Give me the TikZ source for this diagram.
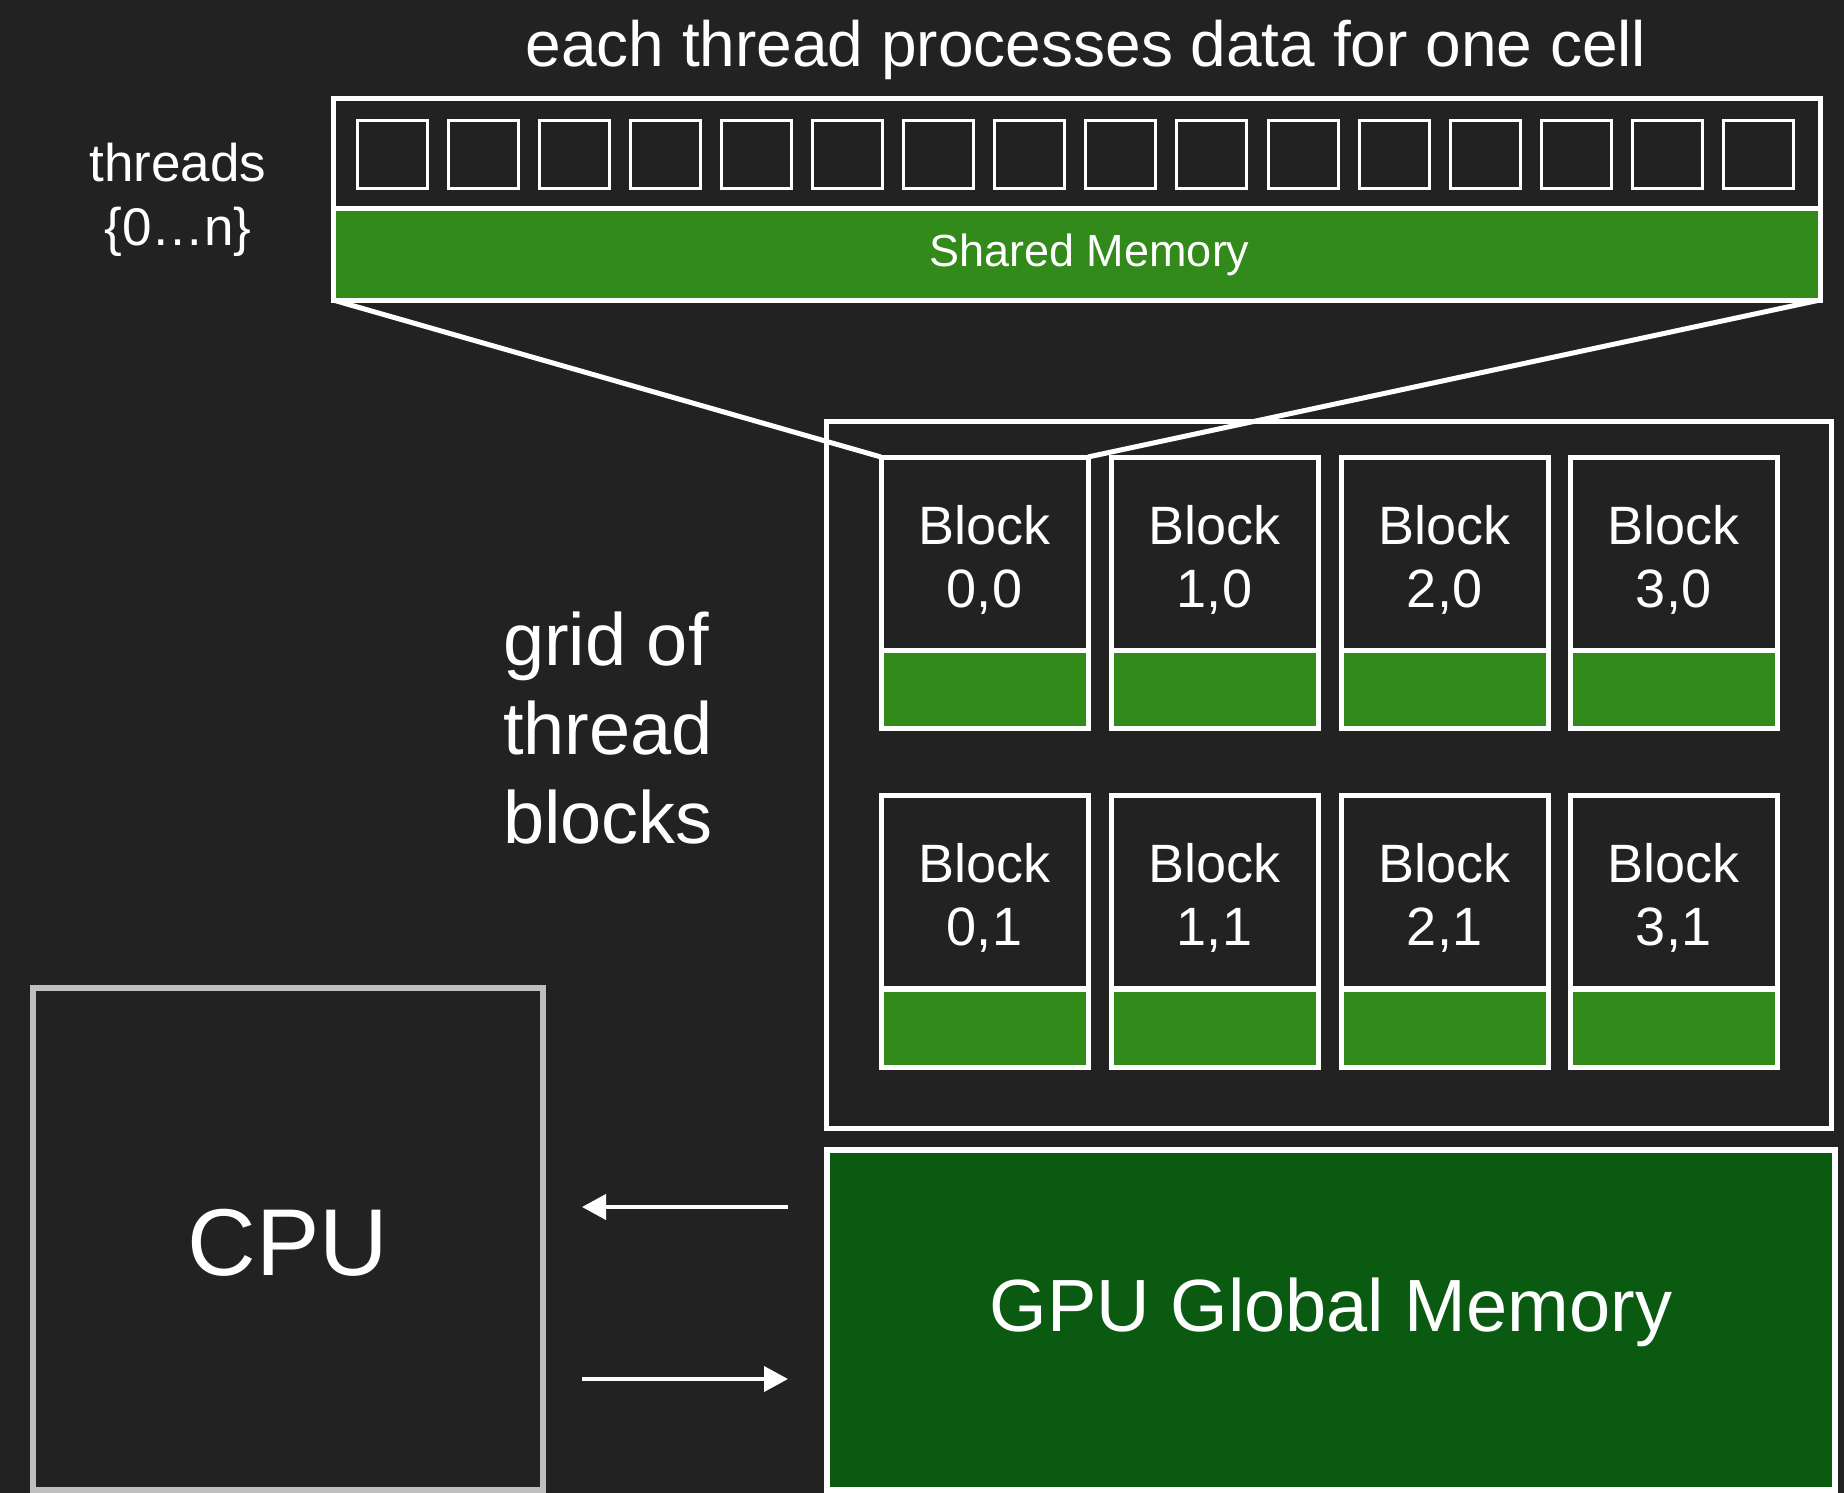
\documentclass[tikz,border=0pt]{standalone}
\usepackage{fontspec}
\setmainfont{Liberation Sans}
\usetikzlibrary{arrows.meta}
\definecolor{bg}{HTML}{222222}
\definecolor{smgreen}{HTML}{318A19}
\definecolor{gmgreen}{HTML}{0B5A12}
\definecolor{cpugray}{HTML}{BFBFBF}
\begin{document}
\begin{tikzpicture}[x=0.5pt,y=-0.5pt,
  every node/.style={text=white, inner sep=0pt, outer sep=0pt},
  box/.style={draw=white, line width=2.5pt, fill=bg, anchor=north west},
  greenbox/.style={draw=white, line width=2.5pt, fill=smgreen, anchor=north west},
  cell/.style={draw=white, line width=1.5pt, fill=bg, anchor=north west, minimum width=35pt, minimum height=34pt},
  blocktop/.style={box, minimum width=103.5pt, minimum height=96.5pt},
  blocktxt/.style={align=center, font=\fontsize{27}{31.5}\selectfont},
  blockmem/.style={greenbox, minimum width=103.5pt, minimum height=39pt},
  zoomline/.style={draw=white, line width=2.5pt},
  conn/.style={draw=white, line width=2pt, -{Triangle[length=12pt,width=12.5pt]}, shorten <=19.5pt, shorten >=19.5pt}
]
\fill[bg] (0,0) rectangle (1844,1493);
\useasboundingbox (0,0) rectangle (1844,1493);

% title
\node[font=\fontsize{32}{38}\selectfont] (title) at (1086,50) {each thread processes data for one cell};

% threads label
\node[align=center, font=\fontsize{26.5}{32}\selectfont] (threads) at (178,200) {threads\\\{0…n\}};

% thread box
\node[box, minimum width=743.5pt, minimum height=55pt] (tbox) at (333,99) {};
\node[greenbox, minimum width=743.5pt, minimum height=45.5pt] (shared) at (333,209) {};
\node[font=\fontsize{22.5}{27}\selectfont] (smtxt) at ([xshift=6.5pt]shared.center) {Shared Memory};
\foreach \i in {0,...,15} {
  \node[cell] (c\i) at ({357+91.1*\i},121) {};
}

% grid of thread blocks
\node[align=left, anchor=west, font=\fontsize{37}{44.5}\selectfont] (gridlbl) at (503,728) {grid of\\thread\\blocks};

\node[box, minimum width=502.5pt, minimum height=353.5pt] (grid) at (826,421) {};

% blocks
\foreach \c/\x in {0/881,1/1111,2/1341,3/1570} {
  \node[blocktop] (b\c0) at (\x,457) {};
  \node[blocktxt] (t\c0) at ([yshift=-3pt]b\c0.center) {Block\\\c,0};
  \node[blockmem] (m\c0) at (\x,650) {};
  \node[blocktop] (b\c1) at (\x,795) {};
  \node[blocktxt] (t\c1) at ([yshift=-3pt]b\c1.center) {Block\\\c,1};
  \node[blockmem] (m\c1) at (\x,989) {};
}

% zoom lines
\draw[zoomline] (shared.south west) -- (b00.north west);
\draw[zoomline] (shared.south east) -- (b00.north east);

% CPU
\node[draw=cpugray, line width=3pt, fill=bg, anchor=north west, minimum width=255pt, minimum height=251pt] (cpu) at (33,988) {};
\node[font=\fontsize{47.5}{57}\selectfont] (cputxt) at (288,1243) {CPU};

% GPU global memory
\node[draw=white, line width=3pt, fill=gmgreen, anchor=north west, minimum width=504pt, minimum height=170pt] (gmem) at (827,1150) {};
\node[font=\fontsize{37}{44}\selectfont] (gmtxt) at ([yshift=4pt]gmem.center) {GPU Global Memory};

% arrows
\coordinate (a1) at (0,1207);
\coordinate (a2) at (0,1379);
\draw[conn] (gmem.west |- a1) -- (cpu.east |- a1);
\draw[conn] (cpu.east |- a2) -- (gmem.west |- a2);
\end{tikzpicture}
\end{document}
